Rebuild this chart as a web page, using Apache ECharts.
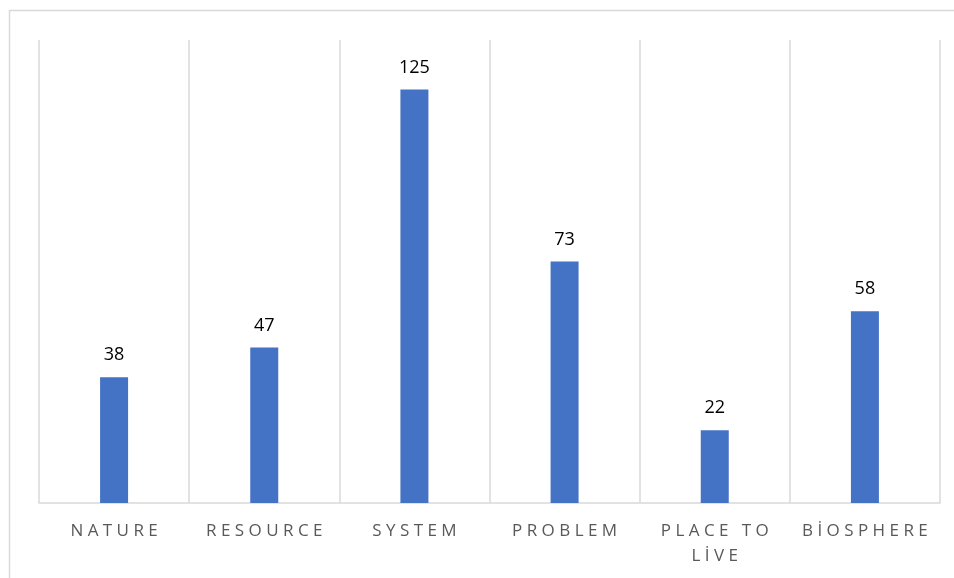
<!DOCTYPE html>
<html>
<head>
<meta charset="utf-8">
<script src="https://cdn.jsdelivr.net/npm/echarts@6/dist/echarts.min.js"></script>
<style>
html,body{margin:0;padding:0;background:#fff;}
#c{width:954px;height:578px;}
</style>
</head>
<body>
<div id="c"></div>
<script>
const categories = ['NATURE', 'RESOURCE', 'SYSTEM', 'PROBLEM', 'PLACE TO\nLİVE', 'BİOSPHERE'];
const values = [38, 47, 125, 73, 22, 58];

function spaced(s) {
  return s.split('\n').map(function (line) {
    return line.split(' ').map(function (w) { return Array.from(w).join(' '); }).join('   ');
  }).join('\n');
}

const chart = echarts.init(document.getElementById('c'), null, {renderer: 'canvas'});
chart.setOption({
  animation: false,
  backgroundColor: '#ffffff',
  graphic: [{
    type: 'rect',
    shape: {x: 9.5, y: 10.5, width: 1200, height: 1200},
    style: {fill: 'none', stroke: '#d9d9d9', lineWidth: 1.5},
    silent: true
  }],
  grid: {left: 39, right: 14, top: 40, bottom: 75},
  xAxis: {
    type: 'category',
    data: categories,
    axisLine: {show: true, lineStyle: {color: '#d9d9d9', width: 1.5}},
    axisTick: {show: false},
    splitLine: {show: true, lineStyle: {color: '#d9d9d9', width: 1.5}},
    axisLabel: {
      color: '#595959',
      fontFamily: 'Open Sans',
      fontSize: 17,
      lineHeight: 25,
      margin: 16,
      interval: 0,
      formatter: function (v) { return spaced(v); }
    }
  },
  yAxis: {
    type: 'value',
    min: 0,
    max: 140,
    show: false,
    splitLine: {show: false}
  },
  series: [{
    type: 'bar',
    data: values,
    barWidth: 28,
    itemStyle: {color: '#4472c4'},
    label: {
      show: true,
      position: 'top',
      distance: 13,
      color: '#000000',
      fontFamily: 'Open Sans',
      fontSize: 18
    }
  }]
});
</script>
</body>
</html>
